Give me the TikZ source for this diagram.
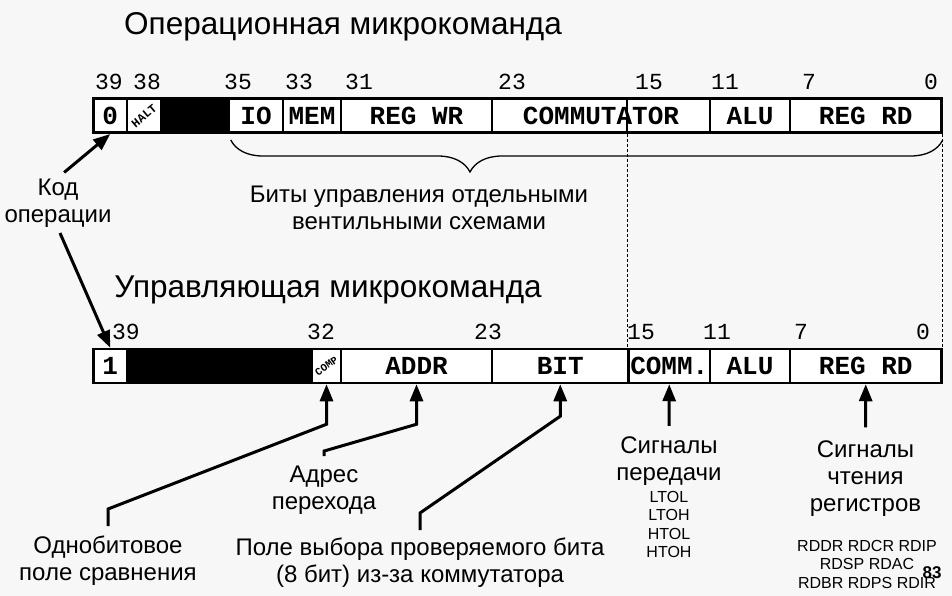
\documentclass[tikz,border=0pt]{standalone}
\usepackage{fontspec}
\setmainfont{Liberation Sans}
\setmonofont{Liberation Mono}
\usetikzlibrary{positioning, arrows.meta, decorations.pathreplacing}

\tikzset{
    field/.style={draw, fill=white, line width=2.5pt, inner sep=0pt,
        font=\fontsize{26}{26}\selectfont\ttfamily\bfseries},
    tinyfield/.style={inner sep=0pt, font=\fontsize{12}{12}\selectfont\ttfamily\bfseries},
    bitnum/.style={inner sep=0pt, font=\fontsize{23}{23}\selectfont\ttfamily},
    title/.style={inner sep=0pt, font=\fontsize{31.5}{31.5}\selectfont},
    lbl/.style={align=center, inner sep=1pt, font=\fontsize{24}{27}\selectfont},
    smalllbl/.style={align=center, inner sep=1pt, font=\fontsize{16}{18.5}\selectfont},
    arr/.style={line width=3pt, -{Triangle[width=13pt, length=17pt]}},
    guide/.style={line width=0.9pt, dash pattern=on 3pt off 2pt},
    brc/.style={line width=1.3pt, decorate,
        decoration={brace, mirror, amplitude=32pt, aspect=0.336}},
}

\begin{document}
\begin{tikzpicture}[x=1pt, y=-1pt]
    \useasboundingbox (0,0) rectangle (952,596);
    \fill[black!3] (0,0) rectangle (952,596);

    % Titles of the two microinstruction formats
    \node[title] (title-op) at (343, 27) {Операционная микрокоманда};
    \node[title] (title-ctl) at (328, 290) {Управляющая микрокоманда};

    % Define field height and row centers
    \def\boxheight{34}
    \def\opy{115.75}
    \def\ctly{366}

    % Unused bits are black
    \fill (161, 97.5) rectangle (229, 134);
    \fill (127, 347.75) rectangle (312, 384.25);

    % First row (operational microinstruction)
    \foreach \name/\lbl/\xa/\xb in {zero/0/93.5/127, halt//127/161, io/IO/229/283,
        mem/MEM/283/341, regwr/REG WR/341/492, comm/COMMUTATOR/492/710,
        alu/ALU/710/790, regrd/REG RD/790/941.5} {
        \pgfmathsetmacro\w{\xb - \xa}
        \pgfmathsetmacro\xc{(\xa + \xb)/2}
        \node[field, minimum width=\w pt, minimum height=\boxheight pt] (op-\name) at (\xc, \opy) {\lbl};
    }
    \node[tinyfield, rotate=40] (halt) at (op-halt) {HALT};

    % Second row (control microinstruction)
    \foreach \name/\lbl/\xa/\xb in {one/1/93.5/127, comp//312/341, addr/ADDR/341/492,
        bit/BIT/492/628.5, comm/COMM./628.5/710, alu/ALU/710/790,
        regrd/REG RD/790/941.5} {
        \pgfmathsetmacro\w{\xb - \xa}
        \pgfmathsetmacro\xc{(\xa + \xb)/2}
        \node[field, minimum width=\w pt, minimum height=\boxheight pt] (ctl-\name) at (\xc, \ctly) {\lbl};
    }
    \node[tinyfield, rotate=35, font=\fontsize{10.5}{10.5}\selectfont\ttfamily\bfseries] (comp) at (ctl-comp) {COMP};

    % Bit numbers above the fields
    \foreach \b/\x in {39/109, 38/147, 35/238, 33/299, 31/359, 23/512, 15/649, 11/725, 7/809, 0/931} {
        \node[bitnum] (op-n\b) at (\x, 82) {\b};
    }
    \foreach \b/\x in {39/126, 32/321, 23/488, 15/641, 11/717, 7/801, 0/923} {
        \node[bitnum] (ctl-n\b) at (\x, 332) {\b};
    }

    % Bit 15 boundary and the dashed guides between the rows
    \draw[line width=2pt] (op-comm.north -| ctl-comm.north west) -- (op-comm.south -| ctl-comm.north west);
    \draw[guide] (op-comm.south -| ctl-comm.north west) -- (ctl-comm.north west);
    \draw[guide] (op-regrd.south east) -- (ctl-regrd.north east);

    % Brace under the gate control bits
    \draw[brc] ([xshift=3pt, yshift=-6pt]op-io.south west) -- ([yshift=-6pt]op-regrd.south east);

    % Labels
    \node[lbl] (code) at (58, 203) {Код\\операции};
    \node[lbl] (gates) at (419, 208) {Биты управления отдельными\\вентильными схемами};
    \node[lbl] (addr) at (324, 490.5) {Адрес\\перехода};
    \node[lbl] (cmp) at (108, 561) {Однобитовое\\поле сравнения};
    \node[lbl] (bitsel) at (420, 563) {Поле выбора проверяемого бита\\(8 бит) из-за коммутатора};
    \node[lbl] (sigt) at (669, 461.5) {Сигналы\\передачи};
    \node[smalllbl, below=3pt of sigt] (sigt-list) {LTOL\\LTOH\\HTOL\\HTOH};
    \node[lbl] (sigr) at (865.5, 478.5) {Сигналы\\чтения\\регистров};
    \node[smalllbl] (sigr-list) at (867, 564) {RDDR RDCR RDIP\\RDSP RDAC\\RDBR RDPS RDIR};
    \node[inner sep=0pt, font=\fontsize{17}{17}\selectfont\bfseries] (page) at (932, 573) {83};

    % Arrows
    \draw[arr, shorten <=8pt] (code.north) -- (op-zero.south);
    \draw[arr, shorten <=5pt] (code.south) -- (ctl-one.north);
    \draw[arr] ([yshift=9pt]cmp.north) -- ++(0,-17) -- ([yshift=-40pt]ctl-comp.south) -- (ctl-comp.south);
    \draw[arr] ([yshift=9pt]addr.north) -- ++(0,-5) -- ([yshift=-40pt]ctl-addr.south) -- (ctl-addr.south);
    \draw[arr] ([yshift=7pt]bitsel.north) -- ++(0,-17) -- ([yshift=-32pt]ctl-bit.south) -- (ctl-bit.south);
    \draw[arr] ([yshift=10pt]sigt.north) -- (ctl-comm.south);
    \draw[arr] ([yshift=12pt]sigr.north) -- (ctl-regrd.south);

\end{tikzpicture}
\end{document}
